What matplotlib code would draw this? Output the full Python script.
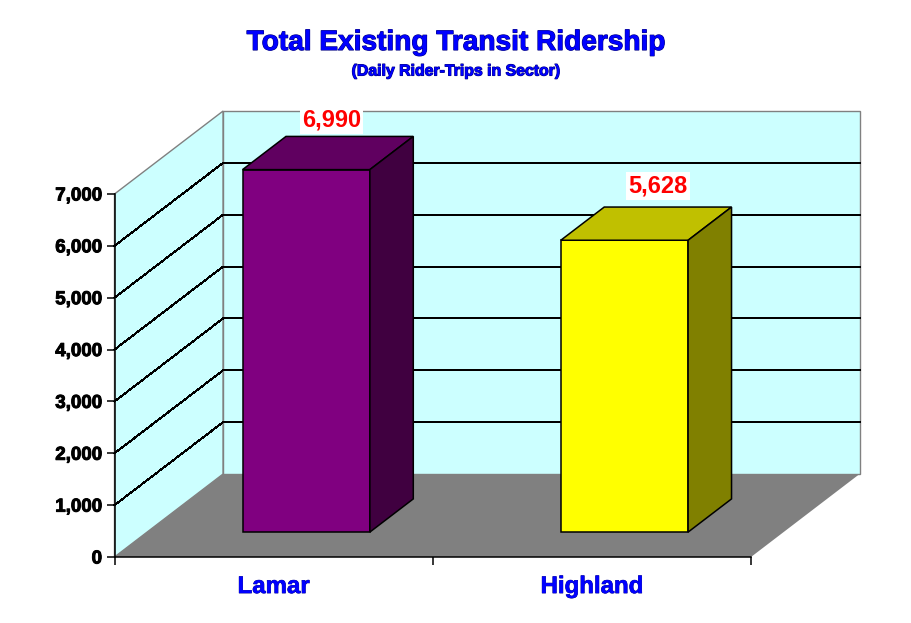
import matplotlib
matplotlib.use('Agg')
import matplotlib.pyplot as plt
import matplotlib.patheffects as pe

plt.rcParams['font.family'] = ['Liberation Sans', 'DejaVu Sans']

categories = ['Lamar', 'Highland']
riders = [6990, 5628]
bar_front = ['#800080', '#FFFF00']
bar_top = ['#600060', '#C0C000']
bar_side = ['#400040', '#808000']
yticks = [0, 1000, 2000, 3000, 4000, 5000, 6000, 7000]
label_offsets = [(-18, 16), (-10, 21)]

# fake 3d: depth d runs 0..1 and shears data coords back and up
dx = 108.5 / 318
dy = 83 * 7000 / 363


def pt(x, y, d):
    return (x + d * dx, y + d * dy)


fig = plt.figure(figsize=(9.11, 6.23), dpi=100)
ax = fig.add_axes([114.5 / 911, (623 - 557) / 623, 636.5 / 911, 363 / 623])
ax.set_xlim(0, 2)
ax.set_ylim(0, 7000)
ax.patch.set_visible(False)

top = yticks[-1]
wall = '#CCFFFF'
edge = '#808080'

# walls and floor
ax.fill(*zip(pt(0, 0, 0), pt(0, 0, 1), pt(0, top, 1), pt(0, top, 0)),
        fc=wall, ec=edge, lw=1, clip_on=False, zorder=1)
ax.fill(*zip(pt(0, 0, 1), pt(2, 0, 1), pt(2, top, 1), pt(0, top, 1)),
        fc=wall, ec=edge, lw=1, clip_on=False, zorder=1)
ax.fill(*zip(pt(0, 0, 0), pt(2, 0, 0), pt(2, 0, 1), pt(0, 0, 1)),
        fc=edge, ec='none', clip_on=False, zorder=2)

# gridlines go up the side wall and along the back
for v in yticks[1:-1]:
    xs, ys = zip(pt(0, v, 0), pt(0, v, 1), pt(2, v, 1))
    ax.plot(xs, ys, color='black', lw=0.72, antialiased=False, clip_on=False, zorder=3)

# bars
half = 0.2
d0, d1 = 0.3, 0.7
for i, v in enumerate(riders):
    c = i + 0.5
    l, r = c - half, c + half
    ax.fill(*zip(pt(l, 0, d0), pt(r, 0, d0), pt(r, v, d0), pt(l, v, d0)),
            fc=bar_front[i], ec='black', lw=1.1, clip_on=False, zorder=4)
    ax.fill(*zip(pt(l, v, d0), pt(r, v, d0), pt(r, v, d1), pt(l, v, d1)),
            fc=bar_top[i], ec='black', lw=1.1, clip_on=False, zorder=4)
    ax.fill(*zip(pt(r, 0, d0), pt(r, 0, d1), pt(r, v, d1), pt(r, v, d0)),
            fc=bar_side[i], ec='black', lw=1.1, clip_on=False, zorder=4)
    ax.annotate(f'{v:,}', xy=pt(c, v, d1), xytext=label_offsets[i],
                textcoords='offset pixels', ha='center', va='center',
                color='#FF0000', fontsize=17, fontweight='bold', zorder=6,
                annotation_clip=False, bbox=dict(fc='white', ec='none', pad=1.5))

# axes
for s in ['top', 'right']:
    ax.spines[s].set_visible(False)
for s in ['left', 'bottom']:
    ax.spines[s].set_linewidth(1.1)
    ax.spines[s].set_zorder(5)

ax.set_yticks(yticks)
ax.set_yticklabels([f'{v:,}' for v in yticks], fontsize=13.5, fontweight='bold', color='black')
ax.tick_params(axis='y', length=6, width=1.1, pad=3)

ax.set_xticks([0, 1, 2])
ax.set_xticklabels([])
ax.tick_params(axis='x', which='major', length=6, width=1.1)
ax.set_xticks([0.5, 1.5], minor=True)
ax.set_xticklabels(categories, minor=True, fontsize=17.3, fontweight='bold', color='#0000FF')
ax.tick_params(axis='x', which='minor', length=0, pad=13)

for t in ax.get_yticklabels():
    t.set_path_effects([pe.withStroke(linewidth=0.7, foreground='black')])
for t in ax.get_xticklabels(minor=True):
    t.set_path_effects([pe.withStroke(linewidth=0.5, foreground='#000080')])

fig.text(456 / 911, 1 - 43 / 623, 'Total Existing Transit Ridership', ha='center', va='center',
         fontsize=20.2, fontweight='bold', color='#0000FF',
         path_effects=[pe.withStroke(linewidth=0.8, foreground='#000080')])
fig.text(456 / 911, 1 - 71 / 623, '(Daily Rider-Trips in Sector)', ha='center', va='center',
         fontsize=11.4, fontweight='bold', color='#0000FF',
         path_effects=[pe.withStroke(linewidth=0.8, foreground='#000080')])

fig.savefig('out.png', dpi=100)
